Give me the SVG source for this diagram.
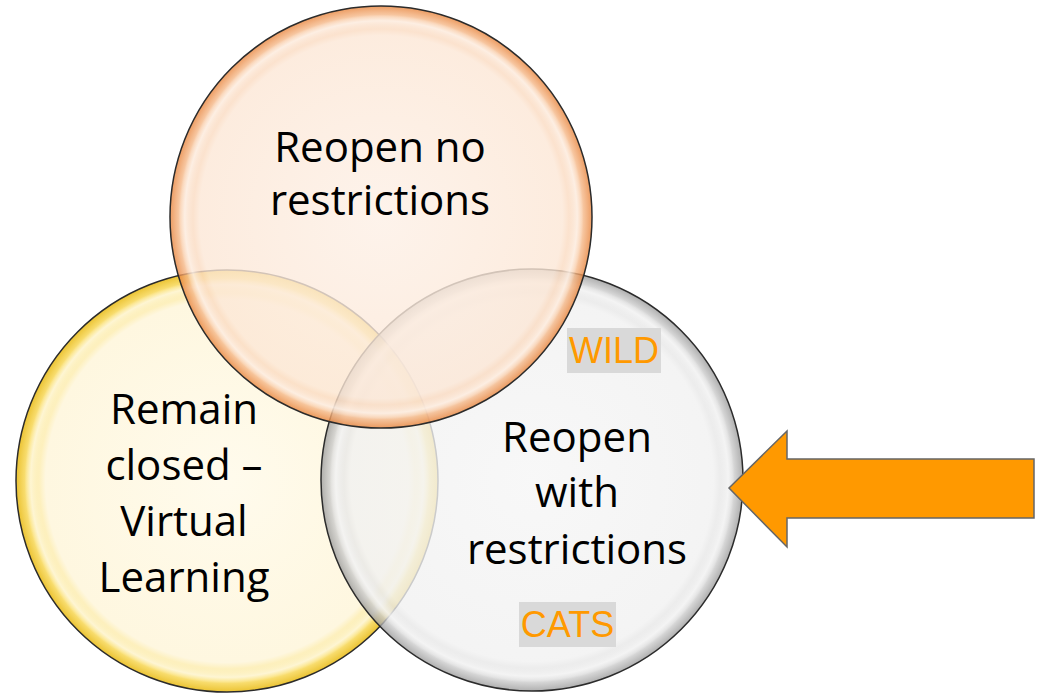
<svg xmlns="http://www.w3.org/2000/svg" width="1044" height="693" viewBox="0 0 1044 693">
  <defs>
    <radialGradient id="gTop" cx="50%" cy="50%" r="50%">
      <stop offset="0%" stop-color="#FDF0E6"/>
      <stop offset="86%" stop-color="#FCE7D6"/>
      <stop offset="95%" stop-color="#F8C49A"/>
      <stop offset="100%" stop-color="#E8843C"/>
    </radialGradient>
    <radialGradient id="gLeft" cx="50%" cy="50%" r="50%">
      <stop offset="0%" stop-color="#FFFAE8"/>
      <stop offset="86%" stop-color="#FEF5D8"/>
      <stop offset="95%" stop-color="#FADB5A"/>
      <stop offset="100%" stop-color="#E6B400"/>
    </radialGradient>
    <radialGradient id="gRight" cx="50%" cy="50%" r="50%">
      <stop offset="0%" stop-color="#F6F6F6"/>
      <stop offset="86%" stop-color="#F1F1F1"/>
      <stop offset="95%" stop-color="#D6D6D6"/>
      <stop offset="100%" stop-color="#9C9C9C"/>
    </radialGradient>
    <radialGradient id="gShine" cx="50%" cy="50%" r="50%">
      <stop offset="89%" stop-color="#FFFFFF" stop-opacity="0"/>
      <stop offset="93%" stop-color="#FFFFFF" stop-opacity="0.6"/>
      <stop offset="96%" stop-color="#FFFFFF" stop-opacity="0"/>
    </radialGradient>
  </defs>
  <style>
    .circ { stroke: #2b2b2b; stroke-width: 1.5; fill-opacity: 0.8; }
    .label { font-family: "Open Sans", "Noto Sans", "Liberation Sans", sans-serif; font-size: 42px; fill: #000000; text-anchor: middle; }
    .tag { font-family: "Liberation Sans", Arial, sans-serif; font-size: 36px; fill: #FF9900; text-anchor: middle; }
    .tagbg { fill: #D9D9D9; }
    .arrow { fill: #FF9900; stroke: #666666; stroke-width: 1.5; stroke-linejoin: miter; }
  </style>
  <rect x="0" y="0" width="1044" height="693" fill="#FFFFFF"/>

  <g id="node-remain-closed">
    <circle class="circ" cx="227" cy="481" r="211" fill="url(#gLeft)"/>
    <circle cx="227" cy="481" r="211" fill="url(#gShine)"/>
  </g>
  <g id="node-reopen-with-restrictions">
    <circle class="circ" cx="532" cy="480" r="211" fill="url(#gRight)"/>
    <circle cx="532" cy="480" r="211" fill="url(#gShine)"/>
  </g>
  <g id="node-reopen-no-restrictions">
    <circle class="circ" cx="381" cy="217" r="211" fill="url(#gTop)"/>
    <circle cx="381" cy="217" r="211" fill="url(#gShine)"/>
  </g>

  <g id="labels">
    <text class="label" x="380" y="162">Reopen no</text>
    <text class="label" x="380" y="215">restrictions</text>
    <text class="label" x="184" y="424">Remain</text>
    <text class="label" x="184" y="480">closed –</text>
    <text class="label" x="184" y="536">Virtual</text>
    <text class="label" x="184" y="592">Learning</text>
    <text class="label" x="577" y="452">Reopen</text>
    <text class="label" x="577" y="507">with</text>
    <text class="label" x="577" y="564">restrictions</text>
  </g>

  <g id="tag-wild">
    <rect class="tagbg" x="567" y="328" width="94" height="45"/>
    <text class="tag" x="614" y="363">WILD</text>
  </g>
  <g id="tag-cats">
    <rect class="tagbg" x="519" y="602" width="97" height="45"/>
    <text class="tag" x="567.5" y="637">CATS</text>
  </g>

  <g id="connectors">
    <polygon class="arrow" points="729,488 787,431 787,459 1034,459 1034,518 787,518 787,547"/>
  </g>
</svg>
